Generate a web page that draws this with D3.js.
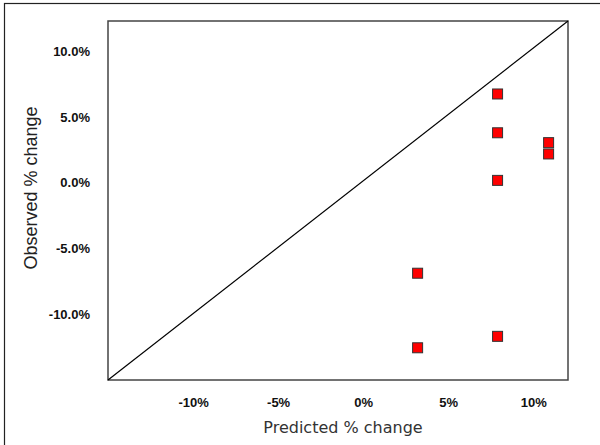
<!DOCTYPE html>
<html><head><meta charset="utf-8">
<script src="https://cdn.jsdelivr.net/npm/d3@7"></script>
<style>body{margin:0;background:#fff}svg{display:block}</style>
</head><body>
<svg id="c" width="600" height="445"></svg>
<script>
const predicted = [7.9, 7.9, 7.9, 10.9, 10.9, 3.2, 3.2, 7.9];
const observed  = [6.75, 3.8, 0.18, 3.05, 2.19, -6.88, -12.55, -11.68];
const xTicks = [-10, -5, 0, 5, 10];
const yTicks = [-10, -5, 0, 5, 10];
const xDomain = [-15, 12.04];
const yDomain = [-15, 12.3];

const svg = d3.select("#c");
const m = {l:108, t:21, r:568, b:380};
const x = d3.scaleLinear().domain(xDomain).range([m.l, m.r]);
const y = d3.scaleLinear().domain(yDomain).range([m.b, m.t]);

// outer frame
svg.append("rect").attr("x",4.5).attr("y",3.5).attr("width",620).attr("height",460)
  .attr("fill","none").attr("stroke","#222").attr("stroke-width",1.2);

// plot frame
svg.append("rect").attr("x",m.l).attr("y",m.t).attr("width",m.r-m.l).attr("height",m.b-m.t)
  .attr("fill","none").attr("stroke","#444").attr("stroke-width",1.5);

// diagonal
svg.append("line").attr("x1",x(xDomain[0])).attr("y1",y(yDomain[0]))
  .attr("x2",x(xDomain[1])).attr("y2",y(yDomain[1]))
  .attr("stroke","#000").attr("stroke-width",1.2);

// axes (labels only)
const xa = svg.append("g").attr("transform",`translate(0,${m.b+27})`)
  .call(d3.axisBottom(x).tickValues(xTicks).tickSize(0).tickFormat(d=>d+"%"));
xa.select(".domain").remove();
xa.selectAll("text").attr("font-family","Liberation Sans, Arial, sans-serif")
  .attr("font-weight","bold").attr("font-size","13px").attr("fill","#111").attr("dy","0").attr("y",0);

const ya = svg.append("g").attr("transform",`translate(90,0)`)
  .call(d3.axisLeft(y).tickValues(yTicks).tickSize(0).tickFormat(d=>d.toFixed(1)+"%"));
ya.select(".domain").remove();
ya.selectAll("text").attr("font-family","Liberation Sans, Arial, sans-serif")
  .attr("font-weight","bold").attr("font-size","13px").attr("fill","#111").attr("x",0);

// points
svg.append("g").selectAll("rect").data(predicted.map((p,i)=>[p,observed[i]])).join("rect")
  .attr("x",d=>x(d[0])-5).attr("y",d=>y(d[1])-5).attr("width",10).attr("height",10)
  .attr("fill","#ff0000").attr("stroke","#333").attr("stroke-width",1);

// titles
svg.append("text").attr("x",343).attr("y",433).attr("text-anchor","middle")
  .attr("font-family","DejaVu Sans, sans-serif").attr("font-size","16px").attr("fill","#333")
  .text("Predicted % change");
svg.append("text").attr("transform","translate(37,188) rotate(-90)").attr("text-anchor","middle")
  .attr("font-family","Liberation Sans, Arial, sans-serif").attr("font-size","18px").attr("fill","#222")
  .text("Observed % change");
</script>
</body></html>
